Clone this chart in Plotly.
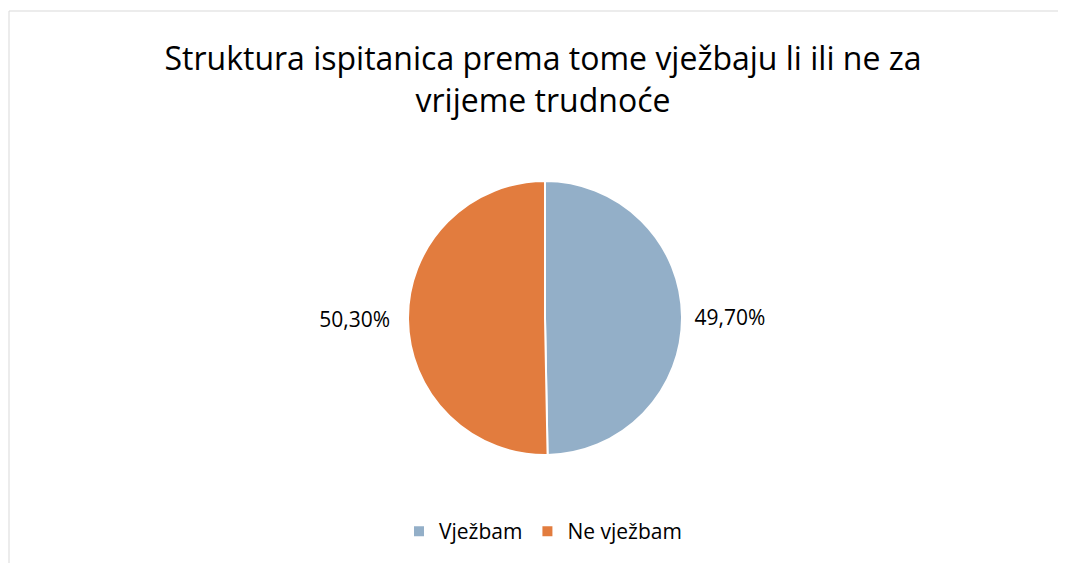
import plotly.graph_objects as go

# Data
labels = ['Vježbam', 'Ne vježbam']
values = [49.70, 50.30]
text_labels = ['\u00a049,70%', '50,30%\u00a0\u00a0']
colors = ['#93afc8', '#e27c3e']

W, H = 1066, 563

fig = go.Figure()

fig.add_trace(
    go.Pie(
        labels=labels,
        values=values,
        text=text_labels,
        textinfo='text',
        textposition='outside',
        sort=False,
        direction='clockwise',
        rotation=0,
        marker=dict(colors=colors, line=dict(color='white', width=2)),
        textfont=dict(size=21, color='#000000'),
        domain=dict(x=[8 / W, 1], y=[(H - 447) / H, (H - 173) / H]),
        hoverinfo='label+percent',
    )
)

# Chart border (only partly visible in the window)
fig.add_shape(
    type='rect', xref='paper', yref='paper',
    x0=1 / W, x1=1.05, y0=-0.05, y1=(H - 3) / H,
    line=dict(color='#d9d9d9', width=1),
)

fig.update_layout(
    width=W,
    height=H,
    autosize=False,
    margin=dict(l=0, r=0, t=0, b=0, autoexpand=False),
    paper_bgcolor='white',
    plot_bgcolor='white',
    font=dict(family='Open Sans, sans-serif', color='#000000'),
    title=dict(
        text='Struktura ispitanica prema tome vježbaju li ili ne za<br>vrijeme trudnoće',
        x=535 / W,
        xanchor='center',
        y=1 - 62 / H,
        yanchor='top',
        font=dict(size=32, color='#000000'),
    ),
    showlegend=True,
    legend=dict(
        orientation='h',
        xref='container',
        yref='container',
        x=535 / W,
        xanchor='center',
        y=1 - 503 / H,
        yanchor='top',
        font=dict(size=21, color='#000000'),
        traceorder='normal',
    ),
)

fig.write_html("out.html")
